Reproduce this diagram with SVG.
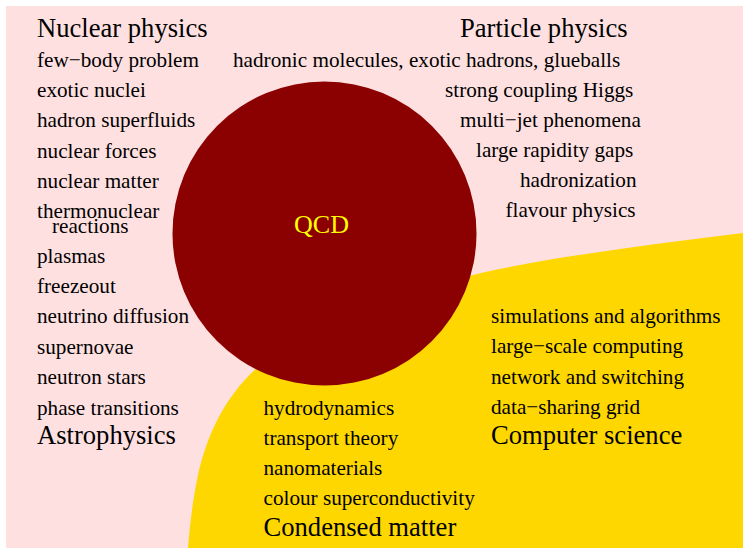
<svg xmlns="http://www.w3.org/2000/svg" width="743" height="548" viewBox="0 0 743 548">
<style>
text{font-family:"Liberation Serif","Times New Roman",serif;fill:#000}
.s{font-size:21.2px}
.h{font-size:26.6px}
.q{fill:#FFFF00;font-size:26px}
</style>
<rect x="0" y="0" width="743" height="548" fill="#ffffff"/>
<g id="background">
<rect x="6" y="6" width="737" height="542" fill="#FFE0E0"/>
<path d="M743,233 C640,246 540,258 460,278 L300,330 L258,367 C226,395 206,435 197,480 C192,505 190,525 188,548 L743,548 Z" fill="#FFD700"/>
</g>
<g id="qcd">
<circle cx="324.5" cy="233.5" r="152" fill="#8B0000"/>
<text class="q" x="321.5" y="233" text-anchor="middle">QCD</text>
</g>
<g id="nuclear-physics">
<text class="h" x="37" y="37">Nuclear physics</text>
<text class="s" x="37" y="67">few−body problem</text>
<text class="s" x="37" y="97">exotic nuclei</text>
<text class="s" x="37" y="127.3">hadron superfluids</text>
<text class="s" x="37" y="157.5">nuclear forces</text>
<text class="s" x="37" y="188">nuclear matter</text>
<text class="s" x="37" y="218.3">thermonuclear</text>
<text class="s" x="52" y="232.5">reactions</text>
</g>
<g id="astrophysics">
<text class="s" x="37" y="263.3">plasmas</text>
<text class="s" x="37" y="293.3">freezeout</text>
<text class="s" x="37" y="323.3">neutrino diffusion</text>
<text class="s" x="37" y="353.5">supernovae</text>
<text class="s" x="37" y="384">neutron stars</text>
<text class="s" x="37" y="414.5">phase transitions</text>
<text class="h" x="37" y="444">Astrophysics</text>
</g>
<g id="particle-physics">
<text class="h" x="460" y="37">Particle physics</text>
<text class="s" x="233" y="67">hadronic molecules, exotic hadrons, glueballs</text>
<text class="s" x="445" y="97">strong coupling Higgs</text>
<text class="s" x="460" y="127.3">multi−jet phenomena</text>
<text class="s" x="476" y="157.3">large rapidity gaps</text>
<text class="s" x="520" y="187.3">hadronization</text>
<text class="s" x="505.5" y="217.3">flavour physics</text>
</g>
<g id="computer-science">
<text class="s" x="491" y="323.3">simulations and algorithms</text>
<text class="s" x="491" y="353.3">large−scale computing</text>
<text class="s" x="491" y="383.5">network and switching</text>
<text class="s" x="491" y="413.5">data−sharing grid</text>
<text class="h" x="491" y="443.5">Computer science</text>
</g>
<g id="condensed-matter">
<text class="s" x="263.5" y="415">hydrodynamics</text>
<text class="s" x="263.5" y="445">transport theory</text>
<text class="s" x="263.5" y="475">nanomaterials</text>
<text class="s" x="263.5" y="505">colour superconductivity</text>
<text class="h" x="263.5" y="535.5">Condensed matter</text>
</g>
<g id="connectors"></g>
</svg>
